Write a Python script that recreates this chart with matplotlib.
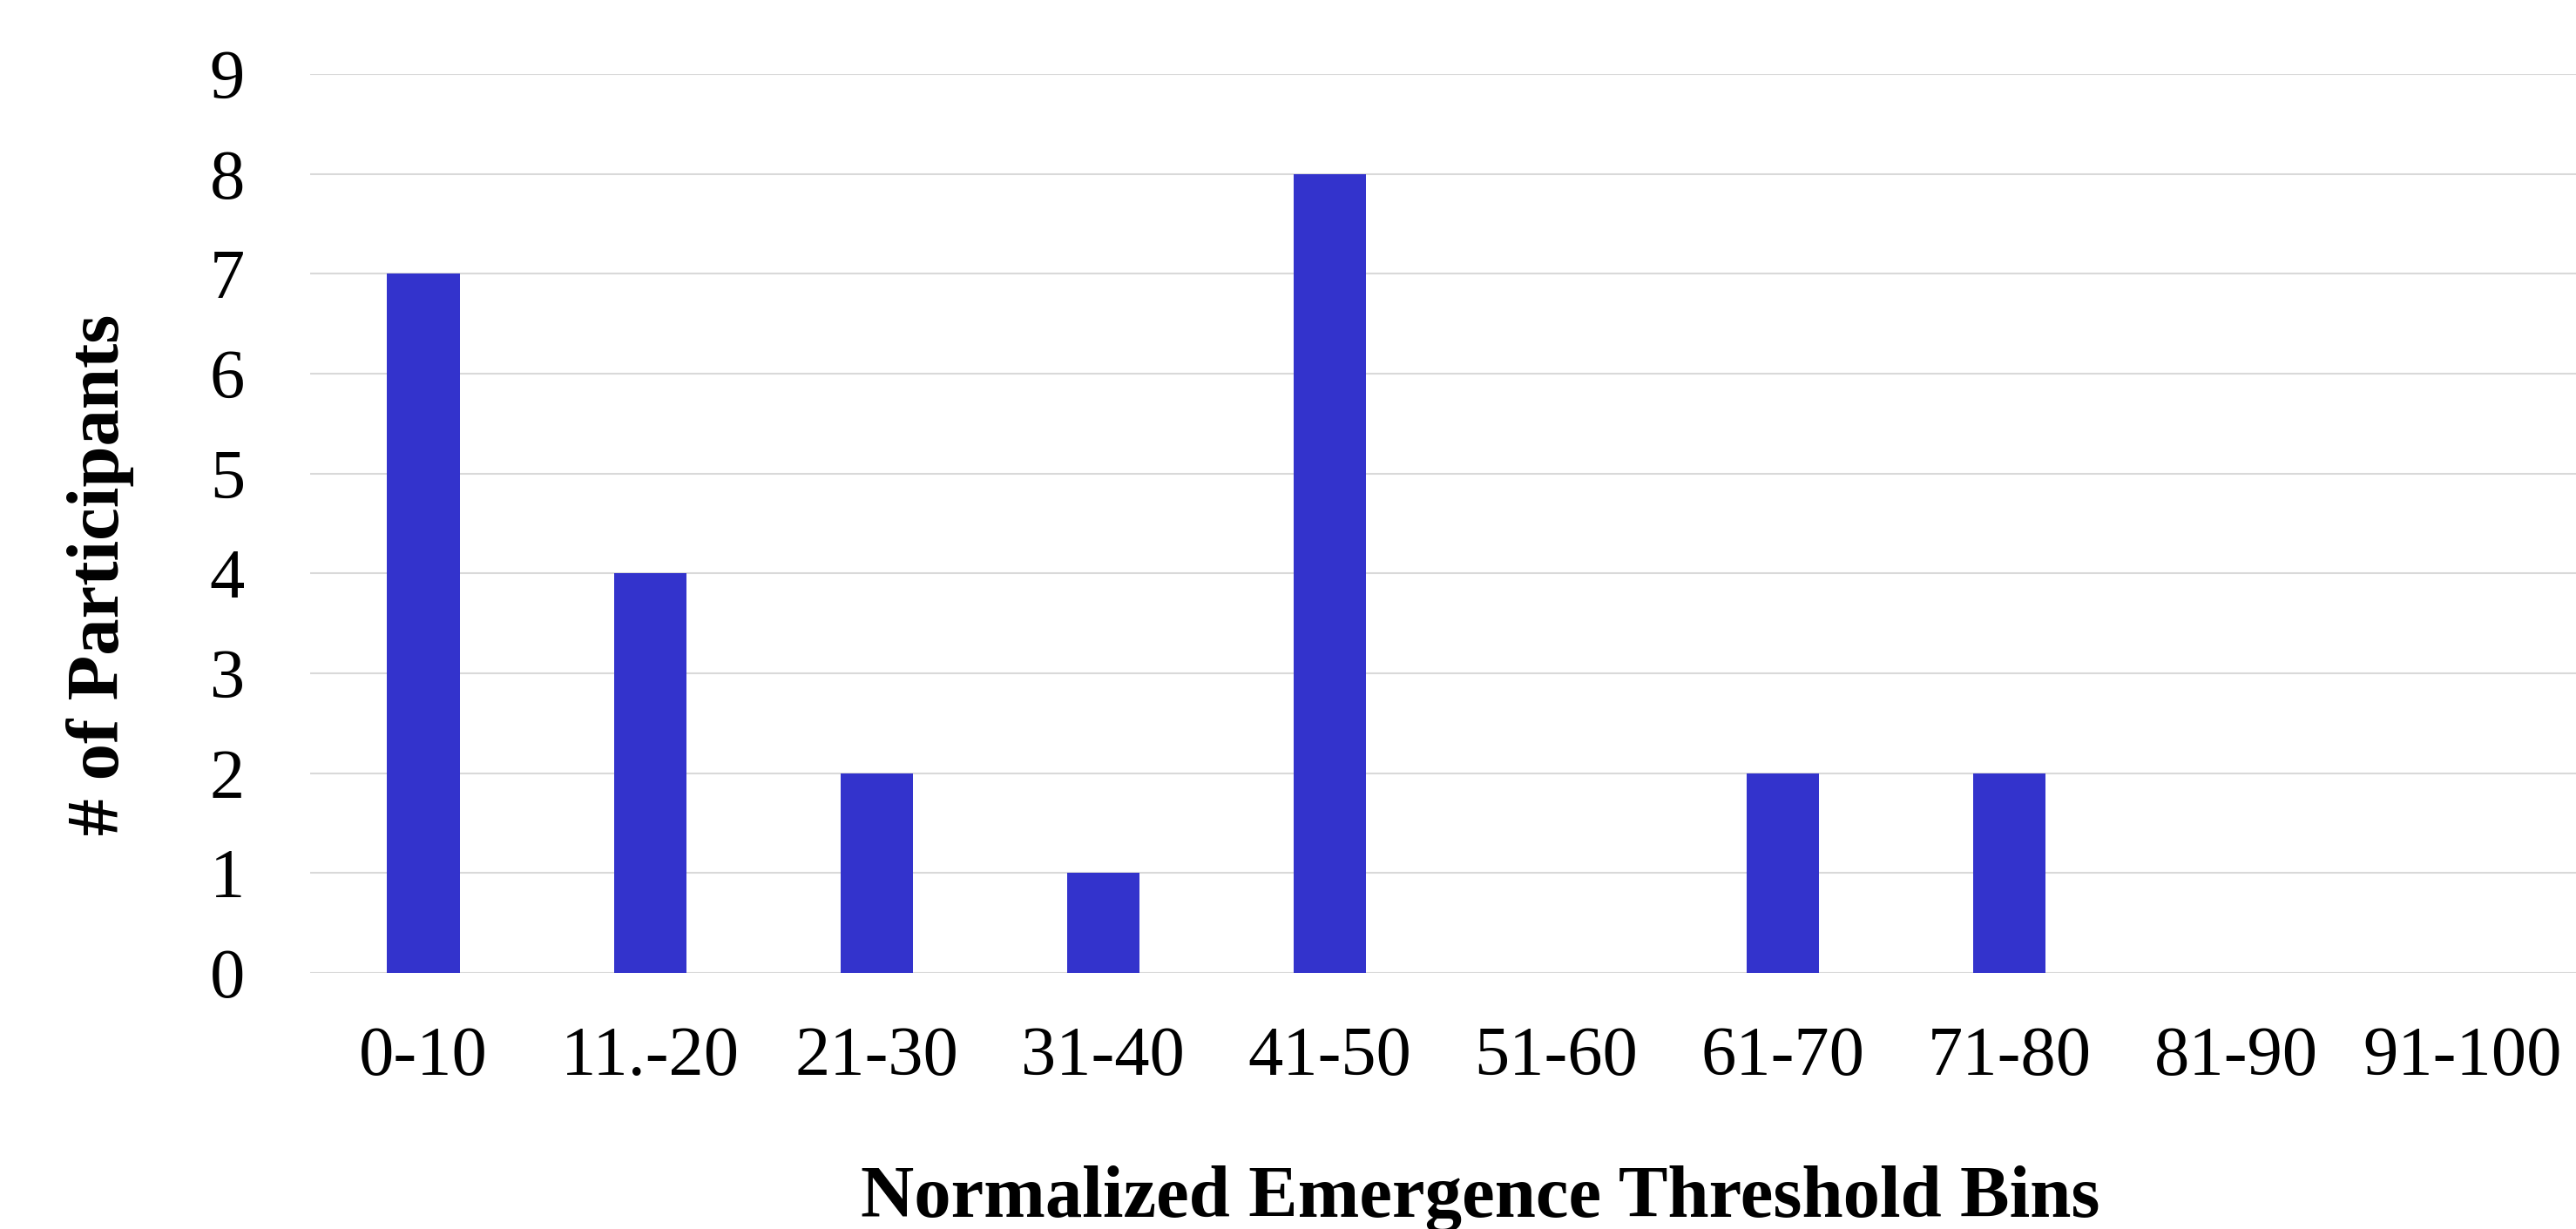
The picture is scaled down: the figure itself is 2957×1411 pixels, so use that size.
# Histogram of normalized emergence thresholds per participant
import numpy as np
import matplotlib.pyplot as plt

# --------------------------------------------------------------------------- #
# Data.
bins = ['0-10', '11.-20', '21-30', '31-40', '41-50',
        '51-60', '61-70', '71-80', '81-90', '91-100']
counts = [7, 4, 2, 1, 8, 0, 2, 2, 0, 0]
yticks = [0, 1, 2, 3, 4, 5, 6, 7, 8, 9]

# --------------------------------------------------------------------------- #
plt.rcParams['font.family'] = ['Liberation Serif', 'DejaVu Serif']

fig = plt.figure(figsize=(29.57, 14.11), dpi=100)
ax = fig.add_axes([0.1204, 0.2084, 0.8796, 0.7314])

x = np.arange(len(bins))
ax.bar(x, counts, width=0.32, color='#3333CC', zorder=3)

# Light horizontal grid, no frame, no tick marks.
ax.set_ylim(0, 9)
ax.set_xlim(-0.5, len(bins) - 0.5)
ax.set_yticks(yticks)
ax.yaxis.grid(True, color='#D9D9D9', linewidth=1.5, zorder=0)
for s in ax.spines.values():
    s.set_visible(False)
ax.tick_params(axis='both', length=0, labelsize=58)
ax.tick_params(axis='y', pad=54)
ax.tick_params(axis='x', pad=44)
ax.set_xticks(x)
ax.set_xticklabels(bins)

# Axis titles placed on the figure.
fig.text(901 / 1568., 1 - 1397 / 1411., 'Normalized Emergence Threshold Bins',
         ha='center', va='baseline', fontsize=61, fontweight='bold')
fig.text(115 / 2957., 1 - 660 / 1411., '# of Participants', rotation=90,
         ha='center', va='center', fontsize=61, fontweight='bold')

fig.savefig('out.png', dpi=100)
